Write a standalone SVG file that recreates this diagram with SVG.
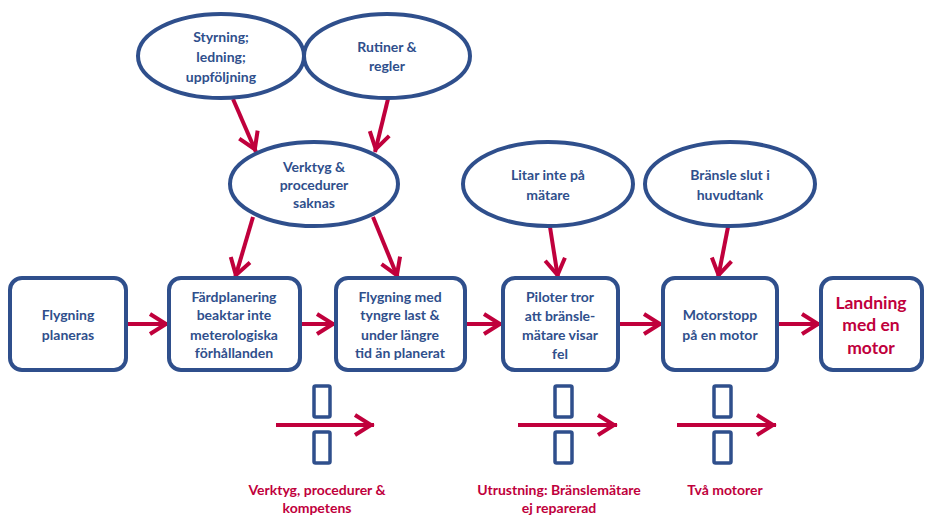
<svg xmlns="http://www.w3.org/2000/svg" width="927" height="515" viewBox="0 0 927 515">
<style>
.n{fill:#fff;stroke:#2F4F8C;stroke-width:4}
.t{font-family:Lato,"Liberation Sans",sans-serif;font-weight:bold;font-size:14px;fill:#2F4F8C;text-anchor:middle}
.r{fill:#C0003C}
.big{font-size:17.5px}
.c{stroke:#C0003C;stroke-width:4;fill:none}
.bar{fill:none;stroke:#2F4F8C;stroke-width:3.5}
</style>
<defs>
<marker id="chev" markerUnits="userSpaceOnUse" markerWidth="26" markerHeight="26" viewBox="-24 -13 26 26" refX="0" refY="0" orient="auto">
<path d="M-19,-10 L-3,0 L-19,10" fill="none" stroke="#C0003C" stroke-width="4"/>
</marker>
</defs>
<g id="connectors">
<line class="c" x1="233" y1="99" x2="256" y2="152" marker-end="url(#chev)"/>
<line class="c" x1="388" y1="99" x2="375" y2="152" marker-end="url(#chev)"/>
<line class="c" x1="253" y1="217" x2="235" y2="278" marker-end="url(#chev)"/>
<line class="c" x1="373" y1="217" x2="398" y2="278" marker-end="url(#chev)"/>
<line class="c" x1="550" y1="227" x2="558" y2="278" marker-end="url(#chev)"/>
<line class="c" x1="728" y1="227" x2="718" y2="278" marker-end="url(#chev)"/>
<line class="c" x1="127" y1="324" x2="169" y2="324" marker-end="url(#chev)"/>
<line class="c" x1="300" y1="324" x2="336" y2="324" marker-end="url(#chev)"/>
<line class="c" x1="465" y1="324" x2="503" y2="324" marker-end="url(#chev)"/>
<line class="c" x1="618" y1="324" x2="663" y2="324" marker-end="url(#chev)"/>
<line class="c" x1="777" y1="324" x2="821" y2="324" marker-end="url(#chev)"/>
</g>
<g id="e-styrning"><ellipse class="n" cx="221" cy="56" rx="83" ry="42"/>
<text class="t"><tspan x="221" y="42">Styrning;</tspan><tspan x="221" y="62">ledning;</tspan><tspan x="221" y="82">uppföljning</tspan></text></g>
<g id="e-rutiner"><ellipse class="n" cx="387" cy="56" rx="83" ry="42"/>
<text class="t"><tspan x="387" y="52">Rutiner &amp;</tspan><tspan x="387" y="71">regler</tspan></text></g>
<g id="e-verktyg"><ellipse class="n" cx="314" cy="184" rx="84" ry="42"/>
<text class="t"><tspan x="314" y="172">Verktyg &amp;</tspan><tspan x="314" y="190">procedurer</tspan><tspan x="314" y="208">saknas</tspan></text></g>
<g id="e-litar"><ellipse class="n" cx="548" cy="184" rx="85" ry="42"/>
<text class="t"><tspan x="548" y="180">Litar inte på</tspan><tspan x="548" y="200">mätare</tspan></text></g>
<g id="e-bransle"><ellipse class="n" cx="730" cy="184" rx="85" ry="42"/>
<text class="t"><tspan x="730" y="180">Bränsle slut i</tspan><tspan x="730" y="200">huvudtank</tspan></text></g>
<g id="b-planeras"><rect class="n" x="10" y="278" width="116" height="92" rx="12"/>
<text class="t"><tspan x="68" y="320">Flygning</tspan><tspan x="68" y="340">planeras</tspan></text></g>
<g id="b-fard"><rect class="n" x="169" y="278" width="131" height="92" rx="12"/>
<text class="t"><tspan x="234" y="302">Färdplanering</tspan><tspan x="234" y="320">beaktar inte</tspan><tspan x="234" y="340">meterologiska</tspan><tspan x="234" y="358">förhållanden</tspan></text></g>
<g id="b-flygning"><rect class="n" x="336" y="278" width="129" height="92" rx="12"/>
<text class="t"><tspan x="400" y="302">Flygning med</tspan><tspan x="400" y="320">tyngre last &amp;</tspan><tspan x="400" y="340">under längre</tspan><tspan x="400" y="358">tid än planerat</tspan></text></g>
<g id="b-piloter"><rect class="n" x="503" y="278" width="115" height="92" rx="12"/>
<text class="t"><tspan x="560" y="302">Piloter tror</tspan><tspan x="560" y="321">att bränsle-</tspan><tspan x="560" y="340">mätare visar</tspan><tspan x="560" y="359">fel</tspan></text></g>
<g id="b-motorstopp"><rect class="n" x="663" y="278" width="114" height="92" rx="12"/>
<text class="t"><tspan x="720" y="320">Motorstopp</tspan><tspan x="720" y="340">på en motor</tspan></text></g>
<g id="b-landning"><rect class="n" x="821" y="278" width="101" height="92" rx="12"/>
<text class="t r big"><tspan x="871" y="309">Landning</tspan><tspan x="871" y="331">med en</tspan><tspan x="871" y="354">motor</tspan></text></g>
<g id="barrier-1">
<rect class="bar" x="314" y="386" width="16" height="31" rx="1.5"/>
<rect class="bar" x="314" y="432" width="16" height="31" rx="1.5"/>
<line class="c" x1="276" y1="425" x2="374" y2="425" marker-end="url(#chev)"/>
<text class="t r"><tspan x="317" y="495">Verktyg, procedurer &amp;</tspan><tspan x="317" y="513">kompetens</tspan></text>
</g>
<g id="barrier-2">
<rect class="bar" x="555" y="386" width="17" height="31" rx="1.5"/>
<rect class="bar" x="555" y="432" width="17" height="31" rx="1.5"/>
<line class="c" x1="518" y1="425" x2="617" y2="425" marker-end="url(#chev)"/>
<text class="t r"><tspan x="559" y="495">Utrustning: Bränslemätare</tspan><tspan x="559" y="513">ej reparerad</tspan></text>
</g>
<g id="barrier-3">
<rect class="bar" x="714" y="386" width="17" height="31" rx="1.5"/>
<rect class="bar" x="714" y="432" width="17" height="31" rx="1.5"/>
<line class="c" x1="677" y1="425" x2="776" y2="425" marker-end="url(#chev)"/>
<text class="t r"><tspan x="725" y="495">Två motorer</tspan></text>
</g>
</svg>
